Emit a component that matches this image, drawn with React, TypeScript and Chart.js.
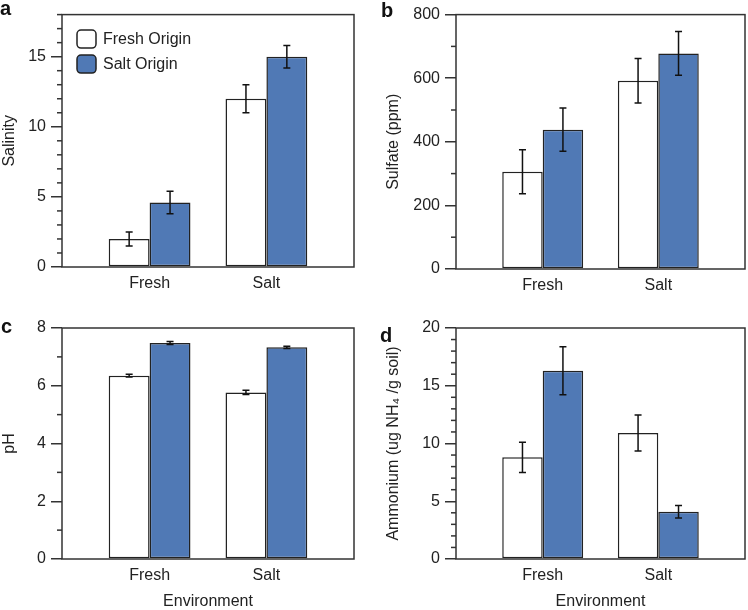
import React, { useEffect, useRef } from 'react';
import { Chart, registerables } from 'chart.js';

Chart.register(...registerables);

// ---------- data ----------
const environments = ['Fresh', 'Salt'];
const originLabels = ['Fresh Origin', 'Salt Origin'];

const salinityFreshOrigin = [2.0, 12.0];
const salinitySaltOrigin = [4.6, 15.0];
const salinityFreshOriginErr = [0.5, 1.0];
const salinitySaltOriginErr = [0.8, 0.8];

const sulfateFreshOrigin = [306, 592];
const sulfateSaltOrigin = [438, 678];
const sulfateFreshOriginErr = [69, 70];
const sulfateSaltOriginErr = [68, 69];

const phFreshOrigin = [6.35, 5.77];
const phSaltOrigin = [7.48, 7.33];
const phFreshOriginErr = [0.05, 0.07];
const phSaltOriginErr = [0.05, 0.04];

const ammoniumFreshOrigin = [8.8, 10.9];
const ammoniumSaltOrigin = [16.3, 4.1];
const ammoniumFreshOriginErr = [1.3, 1.56];
const ammoniumSaltOriginErr = [2.07, 0.54];

const yTitles = ['Salinity', 'Sulfate (ppm)', 'pH', 'Ammonium (ug NH\u2084 /g soil)'];
const yMaxes = [18, 800, 8, 20];
const yMajorSteps = [5, 200, 2, 5];
const yMinorSteps = [1, 100, 1, 1];
const panelLetters = ['a', 'b', 'c', 'd'];
const xTitle = 'Environment';

// ---------- styles ----------
const FONT = "'Liberation Sans', Arial, Helvetica, sans-serif";
const TEXT = '#222222';
const AXIS = '#333333';
const BLUE = '#5079B5';

Chart.defaults.font.family = FONT;
Chart.defaults.font.size = 16;
Chart.defaults.color = TEXT;

type PanelCfg = {
  idx: number;
  fresh: number[];
  salt: number[];
  freshErr: number[];
  saltErr: number[];
  left: number;
  top: number;
  w: number;
  h: number;
  yAxisW: number;
  padTop: number;
  padRight: number;
  xAxisH: number;
  yTitlePad: number;
  showXTitle: boolean;
  showLegend: boolean;
  letterPos: [number, number];
};

const panels: PanelCfg[] = [
  { idx: 0, fresh: salinityFreshOrigin, salt: salinitySaltOrigin, freshErr: salinityFreshOriginErr, saltErr: salinitySaltOriginErr,
    left: 0, top: 0, w: 374, h: 300, yAxisW: 62, padTop: 6, padRight: 20, xAxisH: 33, yTitlePad: 0, showXTitle: false, showLegend: true, letterPos: [0, -2] },
  { idx: 1, fresh: sulfateFreshOrigin, salt: sulfateSaltOrigin, freshErr: sulfateFreshOriginErr, saltErr: sulfateSaltOriginErr,
    left: 374, top: 0, w: 374, h: 300, yAxisW: 82, padTop: 9, padRight: 3, xAxisH: 31, yTitlePad: 10, showXTitle: false, showLegend: false, letterPos: [381, 0] },
  { idx: 2, fresh: phFreshOrigin, salt: phSaltOrigin, freshErr: phFreshOriginErr, saltErr: phSaltOriginErr,
    left: 0, top: 300, w: 374, h: 310, yAxisW: 62, padTop: 28, padRight: 20, xAxisH: 51, yTitlePad: 0, showXTitle: true, showLegend: false, letterPos: [1, 316] },
  { idx: 3, fresh: ammoniumFreshOrigin, salt: ammoniumSaltOrigin, freshErr: ammoniumFreshOriginErr, saltErr: ammoniumSaltOriginErr,
    left: 374, top: 300, w: 374, h: 310, yAxisW: 82, padTop: 28, padRight: 3, xAxisH: 51, yTitlePad: 10, showXTitle: true, showLegend: false, letterPos: [380, 325] },
];

// ---------- plugins ----------
const framePlugin = {
  id: 'frame',
  afterDatasetsDraw(chart: any) {
    const { ctx, chartArea } = chart;
    ctx.save();
    ctx.strokeStyle = AXIS;
    ctx.lineWidth = 1.5;
    ctx.strokeRect(chartArea.left, chartArea.top, chartArea.right - chartArea.left, chartArea.bottom - chartArea.top);
    ctx.restore();
  },
};

const minorTickPlugin = {
  id: 'minorTicks',
  afterDraw(chart: any, _args: any, opts: any) {
    const y = chart.scales.y;
    const { ctx, chartArea } = chart;
    const step = opts.step;
    const major = opts.major;
    ctx.save();
    ctx.strokeStyle = AXIS;
    ctx.lineWidth = 1.5;
    for (let v = y.min; v <= y.max + 1e-9; v += step) {
      const r = v / major;
      if (Math.abs(r - Math.round(r)) < 1e-6) continue;
      const py = y.getPixelForValue(v);
      ctx.beginPath();
      ctx.moveTo(chartArea.left - 5, py);
      ctx.lineTo(chartArea.left, py);
      ctx.stroke();
    }
    ctx.restore();
  },
};

const errorBarPlugin = {
  id: 'errorBars',
  afterDatasetsDraw(chart: any) {
    const { ctx } = chart;
    const yScale = chart.scales.y;
    ctx.save();
    ctx.strokeStyle = '#111111';
    ctx.lineWidth = 1.5;
    chart.data.datasets.forEach((ds: any, di: number) => {
      const meta = chart.getDatasetMeta(di);
      meta.data.forEach((bar: any, j: number) => {
        const v = ds.data[j].y;
        const e = ds.errors[j];
        const yt = yScale.getPixelForValue(v + e);
        const yb = yScale.getPixelForValue(v - e);
        const x = bar.x;
        ctx.beginPath();
        ctx.moveTo(x, yt);
        ctx.lineTo(x, yb);
        ctx.moveTo(x - 3.5, yt);
        ctx.lineTo(x + 3.5, yt);
        ctx.moveTo(x - 3.5, yb);
        ctx.lineTo(x + 3.5, yb);
        ctx.stroke();
      });
    });
    ctx.restore();
  },
};

const insetLegendPlugin = {
  id: 'insetLegend',
  afterDraw(chart: any, _args: any, opts: any) {
    if (!opts.show) return;
    const { ctx, chartArea } = chart;
    ctx.save();
    ctx.font = `16px ${FONT}`;
    ctx.textBaseline = 'middle';
    ctx.textAlign = 'left';
    chart.data.datasets.forEach((ds: any, i: number) => {
      const bx = chartArea.left + 15;
      const by = chartArea.top + 15.5 + i * 25;
      ctx.beginPath();
      ctx.roundRect(bx, by, 19, 18, 4);
      ctx.fillStyle = ds.backgroundColor;
      ctx.fill();
      ctx.strokeStyle = ds.borderColor;
      ctx.lineWidth = 1.5;
      ctx.stroke();
      ctx.fillStyle = TEXT;
      ctx.fillText(ds.label, bx + 19 + 7, by + 9.5);
    });
    ctx.restore();
  },
};

function Panel({ cfg }: { cfg: PanelCfg }) {
  const ref = useRef<HTMLCanvasElement>(null);
  useEffect(() => {
    const i = cfg.idx;
    const major = yMajorSteps[i];
    const font = { family: FONT, size: 16 };
    const chart = new Chart(ref.current as HTMLCanvasElement, {
      type: 'bar',
      data: {
        datasets: [
          {
            label: originLabels[0],
            data: environments.map((_, k) => ({ x: k, y: cfg.fresh[k] })),
            errors: cfg.freshErr,
            backgroundColor: '#ffffff',
            borderColor: '#222222',
            borderWidth: 1.5,
            borderSkipped: false,
            categoryPercentage: 0.7,
            barPercentage: 1,
          } as any,
          {
            label: originLabels[1],
            data: environments.map((_, k) => ({ x: k, y: cfg.salt[k] })),
            errors: cfg.saltErr,
            backgroundColor: BLUE,
            borderColor: '#222222',
            borderWidth: 1.5,
            borderSkipped: false,
            categoryPercentage: 0.7,
            barPercentage: 1,
          } as any,
        ],
      },
      options: {
        animation: false,
        responsive: false,
        devicePixelRatio: 1,
        layout: { padding: { top: cfg.padTop, right: cfg.padRight, left: 0, bottom: 0 } },
        plugins: {
          legend: { display: false },
          tooltip: { enabled: false },
          minorTicks: { step: yMinorSteps[i], major },
          insetLegend: { show: cfg.showLegend },
        } as any,
        scales: {
          x: {
            type: 'linear',
            min: -0.75,
            max: 1.75,
            offset: false,
            grid: { display: false, drawTicks: false },
            border: { display: false },
            afterBuildTicks: (s: any) => {
              s.ticks = environments.map((_, k) => ({ value: k }));
            },
            ticks: {
              callback: (v: any) => environments[v] ?? '',
              font,
              color: TEXT,
              padding: 7,
              maxRotation: 0,
              autoSkip: false,
            },
            title: { display: cfg.showXTitle, text: xTitle, font, color: TEXT, padding: { top: 0, bottom: -1 } },
            afterFit: (s: any) => {
              s.height = cfg.xAxisH;
            },
          },
          y: {
            type: 'linear',
            min: 0,
            max: yMaxes[i],
            afterBuildTicks: (s: any) => {
              s.ticks = s.ticks.filter((t: any) => {
                const r = t.value / major;
                return Math.abs(r - Math.round(r)) < 1e-6;
              });
            },
            ticks: { stepSize: major, font, color: TEXT, padding: 5 },
            grid: { drawOnChartArea: false, drawTicks: true, tickLength: 11, color: AXIS, lineWidth: 1.5 },
            border: { display: false },
            title: { display: true, text: yTitles[i], font, color: TEXT, padding: { top: cfg.yTitlePad, bottom: 0 } },
            afterFit: (s: any) => {
              s.width = cfg.yAxisW;
            },
          },
        } as any,
      },
      plugins: [framePlugin, minorTickPlugin, errorBarPlugin, insetLegendPlugin],
    });
    return () => chart.destroy();
  }, []);
  return (
    <>
      <canvas
        ref={ref}
        width={cfg.w}
        height={cfg.h}
        style={{ position: 'absolute', left: cfg.left, top: cfg.top, width: cfg.w, height: cfg.h }}
      />
      <div
        style={{
          position: 'absolute',
          left: cfg.letterPos[0],
          top: cfg.letterPos[1],
          font: `bold 20px ${FONT}`,
          lineHeight: '20px',
          color: '#111',
        }}
      >
        {panelLetters[cfg.idx]}
      </div>
    </>
  );
}

export default function App() {
  return (
    <div style={{ position: 'absolute', left: 0, top: 0, width: 748, height: 610, background: '#ffffff', overflow: 'hidden' }}>
      {panels.map((p) => (
        <Panel key={p.idx} cfg={p} />
      ))}
    </div>
  );
}
